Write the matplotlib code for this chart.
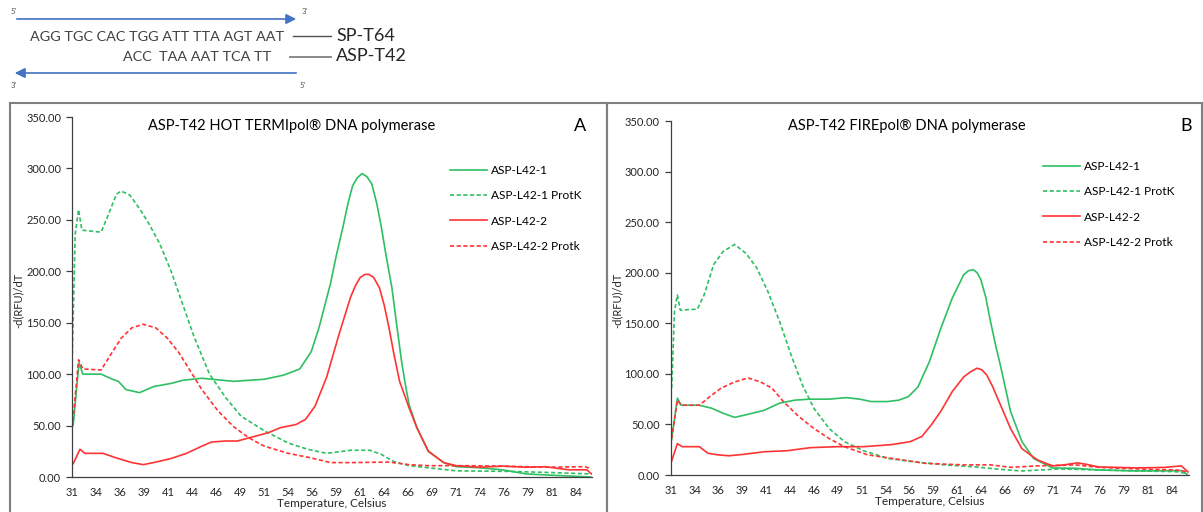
import matplotlib
matplotlib.use("Agg")
import matplotlib.pyplot as plt
from matplotlib.patches import Rectangle, FancyArrowPatch
from matplotlib.lines import Line2D

plt.rcParams['font.family'] = ['Lato', 'DejaVu Sans']

# ---------------- data ----------------
series_names = ["ASP-L42-1", "ASP-L42-1 ProtK", "ASP-L42-2", "ASP-L42-2 Protk"]
x_tick_pos = [31 + 2.5 * i for i in range(22)]
x_tick_labels = ["31", "34", "36", "39", "41", "44", "46", "49", "51", "54", "56",
                 "59", "61", "64", "66", "69", "71", "74", "76", "79", "81", "84"]
y_ticks = [0, 50, 100, 150, 200, 250, 300, 350]

# Panel A: HOT TERMIpol
a1_x = [31.1, 31.7, 32.1, 34.0, 35.2, 35.8, 36.6, 38.0, 39.5, 41.3, 42.5, 44.5, 47.8, 51.0, 53.0, 54.7,
        55.9, 56.7, 57.9, 58.5, 59.2, 59.7, 60.2, 60.7, 61.2, 61.7, 62.2, 62.7, 63.2, 63.7, 64.3,
        64.8, 65.3, 65.7, 66.1, 66.9, 68.1, 69.7, 71.0, 73.4, 75.8, 78.3, 80.3, 82.7, 85.0]
a1_y = [51, 111, 100, 100, 95, 93, 85, 82, 88, 91, 94, 96, 93, 95, 99, 105,
        122, 145, 188, 215, 243, 265, 283, 291, 295, 292, 285, 267, 243, 215, 184,
        148, 113, 90, 70, 48, 25, 14, 10, 9, 7, 3, 2, 1, 0]
a2_x = [31.0, 31.3, 31.65, 32.0, 34.0, 34.8, 35.6, 36.1, 37.0, 38.0, 39.0, 40.1, 41.3, 42.5, 43.7,
        45.3, 47.0, 48.6, 51.0, 53.5, 55.5, 57.5, 60.0, 62.0, 63.2, 64.5, 66.1, 68.1, 71.0,
        76.3, 80.3, 85.0]
a2_y = [119, 236, 260, 240, 238, 256, 275, 278, 274, 261, 246, 227, 200, 168, 136,
        100, 77, 59, 45, 33, 27, 23, 26, 26, 22, 15, 11, 9, 6,
        5.5, 4.5, 3]
a3_x = [31.1, 31.8, 32.3, 34.2, 35.6, 37.2, 38.4, 39.7, 41.3, 42.9, 44.5, 45.5, 47.0, 48.2, 49.8,
        51.4, 52.7, 54.3, 55.3, 56.3, 57.5, 58.8, 60.0, 60.5, 61.0, 61.5, 61.9, 62.4, 63.0, 63.5,
        64.0, 64.5, 65.1, 66.1, 66.9, 68.1, 69.7, 71.0, 73.4, 75.8, 78.3, 80.3, 82.7, 84.6, 85.1]
a3_y = [13, 27, 23, 23, 18.5, 14, 12, 14.5, 18, 23, 30, 34, 35, 35, 39,
        43, 48, 51, 56, 69, 97, 139, 175, 186, 194, 197, 197, 194, 184, 167,
        145, 120, 93, 67, 48, 25, 14, 11, 9.5, 10.5, 9.5, 10, 7, 7, 3]
a4_x = [31.0, 31.65, 32.1, 34.0, 35.0, 36.1, 37.2, 38.4, 39.7, 40.9, 42.1, 43.3, 44.5, 46.2, 47.8,
        49.4, 51.0, 53.5, 55.9, 57.9, 60.0, 64.0, 66.1, 68.1, 72.1, 76.3, 80.3, 84.4, 85.1]
a4_y = [48, 114, 105, 104, 119, 135, 145, 148.5, 145, 135, 121, 103, 85, 64, 49,
        38, 30, 23, 18.5, 14, 14, 14.5, 12, 11, 11, 10.5, 9.5, 10, 8]

# Panel B: FIREpol
b1_x = [31.1, 31.7, 32.1, 34.0, 35.3, 36.5, 37.7, 39.1, 40.8, 42.4, 44.0, 45.6, 47.6, 49.4, 50.8,
        52.0, 53.7, 54.9, 55.9, 56.9, 58.1, 59.3, 60.5, 61.7, 62.2, 62.7, 63.1, 63.5, 64.0, 64.5,
        65.0, 65.6, 66.6, 67.8, 69.0, 71.0, 73.4, 75.8, 79.9, 84.5, 85.1]
b1_y = [35, 76, 69, 69, 66, 61, 57, 60, 64, 71, 74, 75, 75, 76.5, 75,
        72.6, 72.6, 74, 77.5, 87, 112, 145, 175, 198, 202, 203, 200, 193, 176, 152,
        130, 106, 63, 33, 16.5, 7, 6.6, 5, 4, 4.3, 0.7]
b2_x = [31.1, 31.4, 31.7, 32.0, 33.8, 34.5, 35.5, 36.5, 37.7, 38.9, 40.0, 41.2, 42.4, 43.6, 44.8,
        46.0, 47.6, 49.2, 51.2, 53.7, 56.5, 59.7, 62.9, 66.2, 67.8, 71.8, 75.8, 79.9, 83.9, 85.1]
b2_y = [86, 162, 178, 163, 164, 178, 208, 221, 228, 219, 205, 181, 152, 119, 89,
        66, 46, 33, 24, 16.5, 13, 10, 8, 5, 4, 6, 5, 4, 3.3, 1.6]
b3_x = [31.1, 31.7, 32.2, 34.0, 34.9, 35.9, 37.1, 38.7, 40.8, 43.2, 45.6, 48.4, 51.2, 54.1, 56.1,
        57.3, 58.3, 59.3, 60.5, 61.7, 62.4, 63.1, 63.6, 64.1, 64.7, 65.4, 66.6, 67.8, 69.4, 71.0,
        72.2, 73.6, 74.6, 75.8, 79.9, 82.7, 84.5, 85.2]
b3_y = [14, 31, 28, 28, 21.5, 20, 19, 20.5, 23, 24, 27, 28, 28, 30, 33,
        38, 49.5, 63, 82.5, 97, 102, 105.6, 104, 99, 88, 72.6, 46, 26, 15, 9,
        10, 12, 10.5, 8, 7, 7.5, 9, 3]
b4_x = [31.1, 31.7, 32.1, 34.0, 35.1, 36.3, 37.7, 39.1, 40.4, 41.6, 42.8, 44.4, 46.0, 47.6, 49.2,
        51.6, 54.1, 57.7, 61.7, 64.5, 66.6, 69.4, 73.4, 75.8, 79.9, 83.9, 85.1]
b4_y = [36, 74, 69, 69, 77.5, 86, 92, 96, 92, 86, 72.6, 58, 46, 36, 28,
        20, 16.5, 11.5, 10, 10, 7.6, 9, 10, 7.6, 6, 5, 3.3]

# ---------------- styling ----------------
GREEN = '#2fbf63'
RED = '#ff3333'
AXC = '#404040'
TXT = '#262626'
styles = [(GREEN, '-'), (GREEN, (0, (2.5, 1.5))), (RED, '-'), (RED, (0, (2.5, 1.5)))]

W, H = 1203, 512
fig = plt.figure(figsize=(W / 100, H / 100), dpi=100)


def fx(px):
    return px / W


def fy(py):
    return (H - py) / H


# panel frames
for x0, x1 in [(10, 607), (607, 1202)]:
    fig.add_artist(Rectangle((fx(x0), fy(520)), fx(x1 - x0), fy(103) - fy(520),
                             transform=fig.transFigure, fill=False,
                             edgecolor='#7f7f7f', linewidth=1.5))

panels = [
    dict(rect=(72.3, 592, 117, 477), xmax=85.15,
         data=[(a1_x, a1_y), (a2_x, a2_y), (a3_x, a3_y), (a4_x, a4_y)],
         title="ASP-T42 HOT TERMIpol® DNA polymerase", title_x=292, letter="A", letter_x=580,
         leg=(450, 165), ylab_x=18),
    dict(rect=(670.7, 1189, 121, 475), xmax=85.3,
         data=[(b1_x, b1_y), (b2_x, b2_y), (b3_x, b3_y), (b4_x, b4_y)],
         title="ASP-T42 FIREpol® DNA polymerase", title_x=907, letter="B", letter_x=1186,
         leg=(1043, 161), ylab_x=617),
]

for p in panels:
    l, r, t, b = p['rect']
    ax = fig.add_axes([fx(l), fy(b), fx(r - l), fy(t) - fy(b)])
    ax.set_facecolor('none')
    for (xs, ys), (c, ls), name in zip(p['data'], styles, series_names):
        ax.plot(xs, ys, color=c, linestyle=ls, linewidth=1.2, label=name)
    ax.set_xlim(31, p['xmax'])
    ax.set_ylim(0, 350)
    for s in ['top', 'right']:
        ax.spines[s].set_visible(False)
    for s in ['left', 'bottom']:
        ax.spines[s].set_color(AXC)
        ax.spines[s].set_linewidth(0.9)
    ax.set_yticks(y_ticks)
    ax.set_yticklabels([f"{v:.2f}" for v in y_ticks])
    ax.set_xticks(x_tick_pos)
    ax.set_xticklabels(x_tick_labels)
    ax.set_xticks([v for v in range(31, 86, 5)], minor=True)
    ax.tick_params(axis='x', which='major', length=0, pad=7, labelsize=8, labelcolor=TXT)
    ax.tick_params(axis='x', which='minor', length=4, width=0.9, color=AXC)
    ax.tick_params(axis='y', which='major', length=4, width=0.9, color=AXC, pad=4,
                   labelsize=8, labelcolor=TXT)
    ax.set_xlabel("Temperature, Celsius", fontsize=8.5, color=TXT, labelpad=0)
    # title and letter
    fig.text(fx(p['title_x']), fy(126), p['title'], fontsize=10.5, color='black',
             ha='center', va='center')
    fig.text(fx(p['letter_x']), fy(126), p['letter'], fontsize=13, color='black',
             ha='center', va='center')
    fig.text(fx(p['ylab_x']), fy(300), "-d(RFU)/dT", fontsize=8, color=TXT,
             rotation=90, ha='center', va='center')
    lx, ly = p['leg']
    ax.legend(loc='upper left', bbox_to_anchor=(fx(lx), fy(ly)), bbox_transform=fig.transFigure,
              frameon=False, fontsize=8.6, handlelength=3.1, handletextpad=0.35,
              labelspacing=1.2, borderaxespad=0, borderpad=0)

# ---------------- sequence diagram ----------------
BLUE = '#4472c4'
fig.add_artist(FancyArrowPatch((fx(14), fy(19)), (fx(299), fy(19)), transform=fig.transFigure,
                               arrowstyle='-|>,head_length=6,head_width=3', color=BLUE, lw=1.2))
fig.add_artist(FancyArrowPatch((fx(299), fy(73)), (fx(12), fy(73)), transform=fig.transFigure,
                               arrowstyle='-|>,head_length=6,head_width=3', color=BLUE, lw=1.2))
fig.text(fx(11), fy(11), "5'", fontsize=5.5, color='#555555', va='center')
fig.text(fx(302), fy(11), "3'", fontsize=5.5, color='#555555', va='center')
fig.text(fx(11), fy(86), "3'", fontsize=5.5, color='#555555', va='center')
fig.text(fx(300), fy(86), "5'", fontsize=5.5, color='#555555', va='center')
fig.text(fx(284), fy(37), "AGG TGC CAC TGG ATT TTA AGT AAT", fontsize=10.4, color='#404040',
         ha='right', va='center')
fig.text(fx(271), fy(57), "ACC  TAA AAT TCA TT", fontsize=10.4, color='#404040',
         ha='right', va='center')
fig.add_artist(Line2D([fx(293), fx(331)], [fy(36), fy(36)], transform=fig.transFigure,
                      color='#505050', lw=1))
fig.add_artist(Line2D([fx(290), fx(331)], [fy(57), fy(57)], transform=fig.transFigure,
                      color='#808080', lw=1.3))
fig.text(fx(336), fy(36), "SP-T64", fontsize=13, color='#262626', ha='left', va='center')
fig.text(fx(336), fy(56), "ASP-T42", fontsize=13, color='#262626', ha='left', va='center')

fig.savefig("out.png", dpi=100)
